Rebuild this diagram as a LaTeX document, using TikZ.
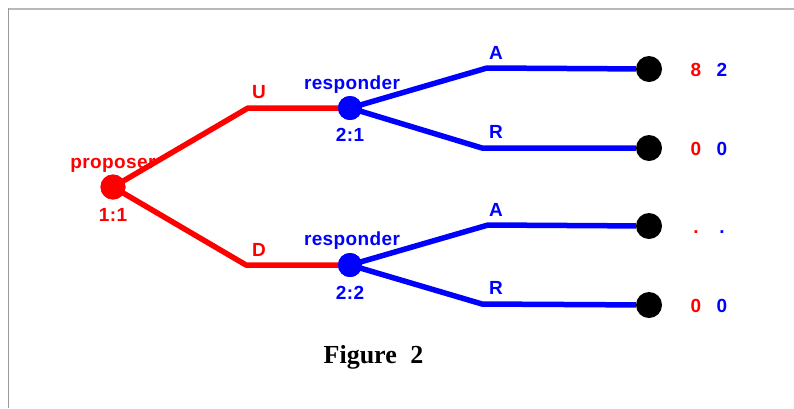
\documentclass[tikz,border=0pt]{standalone}
\usepackage{fontspec}
\setmainfont{Liberation Serif}
\newfontfamily\labfont[LetterSpace=2]{Liberation Sans}
\begin{document}
\begin{tikzpicture}[x=1pt,y=-1pt,
  lab/.style={font=\labfont\bfseries\fontsize{19}{19}\selectfont, anchor=base, inner sep=0pt},
  redlab/.style={lab, text=red},
  bluelab/.style={lab, text=blue},
  dot/.style={circle, inner sep=0pt, minimum size=#1},
  pnode/.style={dot=25pt, fill=red},
  rnode/.style={dot=24pt, fill=blue},
  tnode/.style={dot=26pt, fill=black},
  redline/.style={draw=red, line width=5.5pt, line join=round},
  blueline/.style={draw=blue, line width=5.5pt, line join=round},
  caption/.style={font=\bfseries\fontsize{26}{26}\selectfont, anchor=base, inner sep=0pt}
]
\useasboundingbox (0,0) rectangle (794,408);
\fill[white] (0,0) rectangle (794,408);
% frame
\draw[gray!55, line width=1.6pt] (8.5,8.8) -- (794,8.8);
\draw[gray!80, line width=0.9pt] (8.5,8) -- (8.5,408);

% corner coordinates
\coordinate (cU) at (248,108);
\coordinate (cD) at (246,265);
\coordinate (cA1) at (487,68);
\coordinate (cR1) at (482,148);
\coordinate (cA2) at (488,225);
\coordinate (cR2) at (482,304);

% nodes
\node[pnode] (p) at (113,187) {};
\node[rnode] (r1) at (350,108) {};
\node[rnode] (r2) at (350,265) {};
\node[tnode] (t1) at (649,69) {};
\node[tnode] (t2) at (649,148) {};
\node[tnode] (t3) at (649,226) {};
\node[tnode] (t4) at (649,305) {};

% connectors
\draw[redline] (p.center) -- (cU) -- (r1.center);
\draw[redline] (p.center) -- (cD) -- (r2.center);
\draw[blueline] (r1.center) -- (cA1) -- (t1);
\draw[blueline] (r1.center) -- (cR1) -- (t2);
\draw[blueline] (r2.center) -- (cA2) -- (t3);
\draw[blueline] (r2.center) -- (cR2) -- (t4);
% redraw node discs on top
\fill[red] (p) circle (12.5pt);
\fill[blue] (r1) circle (12pt);
\fill[blue] (r2) circle (12pt);

% labels
\node[redlab] (lprop) at (113,168) {proposer};
\node[redlab] (l11) at (113,221) {1:1};
\node[redlab] (lU) at (259,98) {U};
\node[redlab] (lD) at (259,256) {D};
\node[bluelab] (lr1) at (352,89) {responder};
\node[bluelab] (l21) at (350,141) {2:1};
\node[bluelab] (lr2) at (352,245) {responder};
\node[bluelab] (l22) at (350,299) {2:2};
\node[bluelab] (lA1) at (496,59) {A};
\node[bluelab] (lR1) at (496,138) {R};
\node[bluelab] (lA2) at (496,216) {A};
\node[bluelab] (lR2) at (496,294) {R};

% payoffs
\node[redlab] (u1) at (696,76) {8};
\node[bluelab] (v1) at (722,76) {2};
\node[redlab] (u2) at (696,155) {0};
\node[bluelab] (v2) at (722,155) {0};
\node[redlab] (u3) at (696,233) {.};
\node[bluelab] (v3) at (722,233) {.};
\node[redlab] (u4) at (696,312) {0};
\node[bluelab] (v4) at (722,312) {0};

% caption
\node[caption] (cap) at (373.5,363) {Figure\hspace{7pt} 2};
\end{tikzpicture}
\end{document}
